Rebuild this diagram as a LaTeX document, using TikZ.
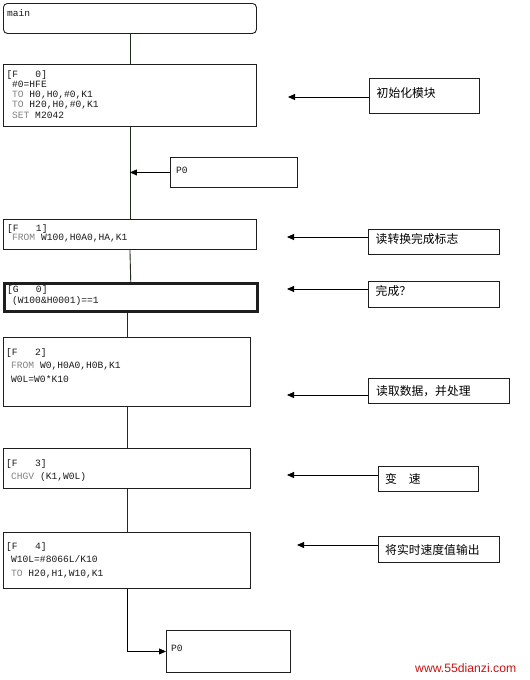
\documentclass[tikz,border=0pt]{standalone}
\usepackage{fontspec}
\setmonofont{Liberation Mono}
\newfontfamily\cjk{Noto Sans CJK SC}
\newfontfamily\wmfont{Liberation Sans}
\usetikzlibrary{arrows.meta}
\definecolor{boxc}{RGB}{30,30,30}
\definecolor{flowc}{RGB}{30,45,30}
\definecolor{kw}{RGB}{130,130,130}
\definecolor{txt}{RGB}{25,25,25}
\definecolor{wmred}{RGB}{200,20,20}
\begin{document}
\begin{tikzpicture}[x=1pt,y=-1pt,
 box/.style={draw=boxc, line width=0.9pt, inner sep=0pt, anchor=north west},
 code/.style={font=\ttfamily\fontsize{9.6}{10}\selectfont, text=txt, inner sep=0pt, anchor=base west},
 note/.style={font=\cjk\fontsize{11.8}{12}\selectfont, text=black, inner sep=0pt, anchor=base west},
 flow/.style={draw=flowc, line width=0.9pt},
 ptr/.style={draw=black, line width=0.9pt, -{Triangle[length=7pt,width=6pt]}},
]
\path[use as bounding box, fill=white] (0,0) rectangle (530,680);

% left column boxes
\node[box, rounded corners=4pt, minimum width=253pt, minimum height=30pt] (main) at (3,3) {};
\node[box, minimum width=253pt, minimum height=62pt] (F0) at (3,64) {};
\node[box, minimum width=127pt, minimum height=30pt] (P0a) at (170,157) {};
\node[box, minimum width=253pt, minimum height=30pt] (F1) at (3,219) {};
\node[box, line width=2.5pt, minimum width=253pt, minimum height=28pt] (G0) at (3,282) {};
\node[box, minimum width=247pt, minimum height=69pt] (F2) at (3,337) {};
\node[box, minimum width=247pt, minimum height=40pt] (F3) at (3,448) {};
\node[box, minimum width=247pt, minimum height=56pt] (F4) at (3,532) {};
\node[box, minimum width=124pt, minimum height=42pt] (P0b) at (166,630) {};

% code texts
\node[code] (tmain) at (7,16.5) {main};
\node[code] (t0a) at (6.5,77) {[F\ \ \ 0]};
\node[code] (t0b) at (12,87) {\#0=HFE};
\node[code] (t0c) at (12,97) {\textcolor{kw}{TO} H0,H0,\#0,K1};
\node[code] (t0d) at (12,107) {\textcolor{kw}{TO} H20,H0,\#0,K1};
\node[code] (t0e) at (12,118) {\textcolor{kw}{SET} M2042};
\node[code] (tp0a) at (176,173) {P0};
\node[code] (t1a) at (7,231) {[F\ \ \ 1]};
\node[code] (t1b) at (12,240) {\textcolor{kw}{FROM} W100,H0A0,HA,K1};
\node[code] (tga) at (7,292.5) {[G\ \ \ 0]};
\node[code] (tgb) at (12,303.5) {(W100\&H0001)==1};
\node[code] (t2a) at (6,355.5) {[F\ \ \ 2]};
\node[code] (t2b) at (11,368.5) {\textcolor{kw}{FROM} W0,H0A0,H0B,K1};
\node[code] (t2c) at (11,382.5) {W0L=W0*K10};
\node[code] (t3a) at (6,466) {[F\ \ \ 3]};
\node[code] (t3b) at (11,479.5) {\textcolor{kw}{CHGV} (K1,W0L)};
\node[code] (t4a) at (6,549.5) {[F\ \ \ 4]};
\node[code] (t4b) at (11,562.5) {W10L=\#8066L/K10};
\node[code] (t4c) at (11,576) {\textcolor{kw}{TO} H20,H1,W10,K1};
\node[code] (tp0b) at (171,651) {P0};

% flow connectors
\draw[flow] (main.south) -- (F0.north);
\draw[flow] (F0.south) -- (F1.north);
\draw[ptr] (P0a.west) -- (P0a.west -| F0.south);
\draw[flow] (F1.south) -- (G0.north);
\draw[flow] (F2.north |- G0.south) -- (F2.north);
\draw[flow] (F2.south) -- (F3.north);
\draw[flow] (F3.south) -- (F4.north);
\draw[ptr] (F4.south) |- (P0b.west);

% right notes
\node[box, minimum width=110pt, minimum height=35pt] (n1) at (369,78) {};
\node[box, minimum width=131pt, minimum height=25pt] (n2) at (368,229) {};
\node[box, minimum width=131pt, minimum height=26pt] (n3) at (368,281) {};
\node[box, minimum width=141pt, minimum height=25pt] (n4) at (368,378) {};
\node[box, minimum width=100pt, minimum height=25pt] (n5) at (378,466) {};
\node[box, minimum width=121pt, minimum height=26pt] (n6) at (378,536) {};

\node[note] (tn1) at (376.5,97) {初始化模块};
\node[note] (tn2) at (375.5,243) {读转换完成标志};
\node[note] (tn3) at (375.5,295.5) {完成？};
\node[note] (tn4) at (376,395.5) {读取数据，并处理};
\node[note] (tn5) at (385,483.5) {变\hspace{12pt}速};
\node[note] (tn6) at (385,554.5) {将实时速度值输出};

\coordinate (c1) at (288,97);
\coordinate (c2) at (287,237);
\coordinate (c3) at (287,289);
\coordinate (c4) at (287,395);
\coordinate (c5) at (287,475);
\coordinate (c6) at (297,545);
\draw[ptr] (c1 -| n1.west) -- (c1);
\draw[ptr] (c2 -| n2.west) -- (c2);
\draw[ptr] (c3 -| n3.west) -- (c3);
\draw[ptr] (c4 -| n4.west) -- (c4);
\draw[ptr] (c5 -| n5.west) -- (c5);
\draw[ptr] (c6 -| n6.west) -- (c6);

\node[font=\wmfont\fontsize{12.2}{13}\selectfont, text=wmred, anchor=base west, inner sep=0pt] (wm) at (415,672) {www.55dianzi.com};
\end{tikzpicture}
\end{document}
